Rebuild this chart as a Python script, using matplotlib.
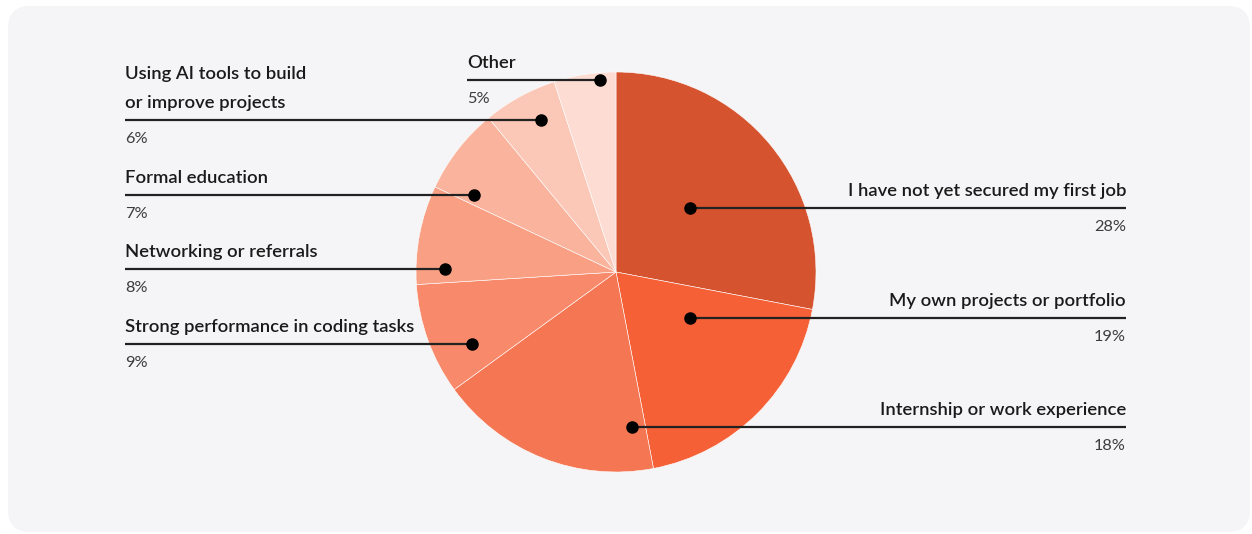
import matplotlib.pyplot as plt
from matplotlib.patches import FancyBboxPatch

# figure size in pixels
W, H = 1252, 534

# survey answers, clockwise from 12 o'clock
labels = [
    "I have not yet secured my first job",
    "My own projects or portfolio",
    "Internship or work experience",
    "Strong performance in coding tasks",
    "Networking or referrals",
    "Formal education",
    "Using AI tools to build\nor improve projects",
    "Other",
]
shares = [28, 19, 18, 9, 8, 7, 6, 5]
colors = ["#D5532F", "#F66036", "#F47652", "#F88A6B",
          "#F9A084", "#FAB49D", "#FBC7B6", "#FDDCD3"]

# callout layout in pixels from the top-left: dot x, line y, text x, side
callouts = [
    (690, 208, 1126, "right"),
    (690, 318, 1126, "right"),
    (632, 427, 1126, "right"),
    (472, 344, 125, "left"),
    (445, 269, 125, "left"),
    (474, 195, 125, "left"),
    (541, 120, 125, "left"),
    (600, 80, 467, "left"),
]

plt.rcParams['font.family'] = ['Lato', 'DejaVu Sans']

fig = plt.figure(figsize=(W / 100, H / 100), dpi=100)
fig.patch.set_facecolor("white")
ax = fig.add_axes([0, 0, 1, 1])


def Y(y):
    return H - y


panel = FancyBboxPatch((8, Y(532)), 1242, 526,
                       boxstyle="round,pad=0,rounding_size=22",
                       facecolor="#F5F5F7", edgecolor="none", zorder=0)
ax.add_patch(panel)

ax.pie(shares, colors=colors, startangle=90, counterclock=False,
       center=(616, Y(272)), radius=200,
       wedgeprops=dict(edgecolor="white", linewidth=0.4, alpha=1),
       frame=False)

ax.set_xlim(0, W)
ax.set_ylim(0, H)
ax.set_aspect("auto")
ax.axis("off")

for lab, val, (dx, ly, tx, side) in zip(labels, shares, callouts):
    ax.plot([dx, tx], [Y(ly), Y(ly)], color="#222222", lw=1.6,
            solid_capstyle="butt", zorder=3)
    ax.plot(dx, Y(ly), "o", color="black", ms=8, zorder=4)
    ha = "right" if side == "right" else "left"
    ax.text(tx, Y(ly) + 9, lab, ha=ha, va="bottom", fontsize=13.3,
            color="#1A1A1A", fontweight="semibold", linespacing=2.0,
            zorder=5)
    ax.text(tx, Y(ly) - 12, f"{val}%", ha=ha, va="top", fontsize=11.8,
            color="#3C3C3C", fontweight="normal", zorder=5)

fig.savefig("out.png", dpi=100, facecolor=fig.get_facecolor())
